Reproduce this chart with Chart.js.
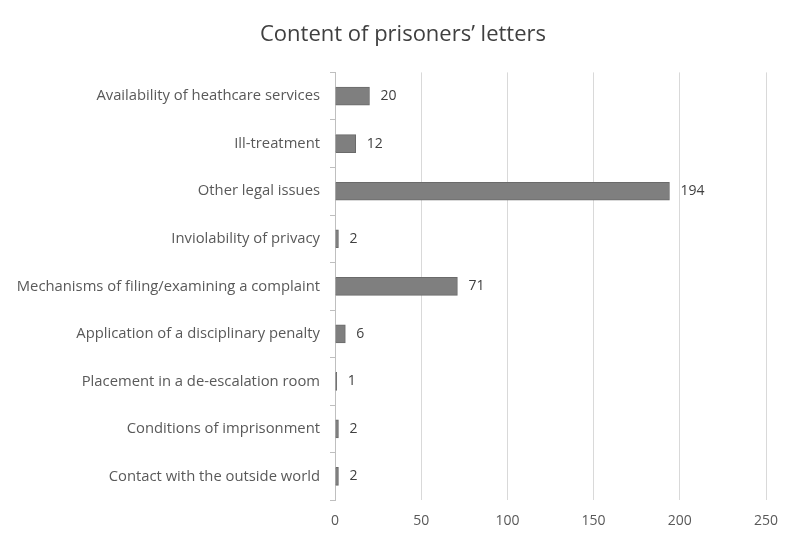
<!DOCTYPE html>
<html><head><meta charset="utf-8">
<script src="https://cdn.jsdelivr.net/npm/chart.js@4/dist/chart.umd.min.js"></script>
<style>html,body{margin:0;padding:0;background:#fff}#w{width:794px;height:541px}</style>
</head><body><div id="w"><canvas id="c"></canvas></div>
<script>
const categories = [
  "Availability of heathcare services",
  "Ill-treatment",
  "Other legal issues",
  "Inviolability of privacy",
  "Mechanisms of filing/examining a complaint",
  "Application of a disciplinary penalty",
  "Placement in a de-escalation room",
  "Conditions of imprisonment",
  "Contact with the outside world"
];
const letterCounts = [20, 12, 194, 2, 71, 6, 1, 2, 2];
const xTicks = [0, 50, 100, 150, 200, 250];
const chartTitle = "Content of prisoners’ letters";

const FONT = '"Open Sans", sans-serif';

const labelPlugin = {
  id: 'valueLabels',
  afterDatasetsDraw(chart) {
    const ctx = chart.ctx;
    const meta = chart.getDatasetMeta(0);
    ctx.save();
    ctx.font = '14px ' + FONT;
    ctx.fillStyle = '#404040';
    ctx.textBaseline = 'middle';
    ctx.textAlign = 'left';
    meta.data.forEach((bar, i) => {
      ctx.fillText(String(letterCounts[i]), bar.x + 11, bar.y);
    });
    ctx.restore();
  }
};

new Chart(document.getElementById('c'), {
  type: 'bar',
  data: {
    labels: categories,
    datasets: [{
      data: letterCounts,
      backgroundColor: '#7f7f7f',
      borderColor: '#6a6a6a',
      borderWidth: 1,
      barThickness: 18
    }]
  },
  options: {
    indexAxis: 'y',
    responsive: true,
    maintainAspectRatio: false,
    animation: false,
    layout: { padding: { left: 12, right: 0, top: 22, bottom: 0 } },
    plugins: {
      legend: { display: false },
      tooltip: { enabled: false },
      title: {
        display: true,
        text: chartTitle,
        color: '#404040',
        font: { family: FONT, size: 22, weight: 'normal' },
        padding: { top: 0, bottom: 24 }
      }
    },
    scales: {
      x: {
        min: 0, max: 250,
        afterBuildTicks(scale) { scale.ticks = xTicks.map(v => ({ value: v })); },
        afterFit(scale) { scale.paddingRight = 28; },
        grid: { color: '#d9d9d9', drawTicks: false },
        border: { display: false },
        ticks: {
          color: '#595959',
          padding: 12,
          font: { family: FONT, size: 14 }
        }
      },
      y: {
        afterFit(scale) { scale.width = 323; },
        grid: { drawOnChartArea: false, drawTicks: true, tickLength: 5, color: '#bfbfbf', offset: true },
        border: { display: true, color: '#bfbfbf' },
        ticks: {
          color: '#595959',
          padding: 10,
          font: { family: FONT, size: 14.8 }
        }
      }
    }
  },
  plugins: [labelPlugin]
});
</script>
</body></html>
